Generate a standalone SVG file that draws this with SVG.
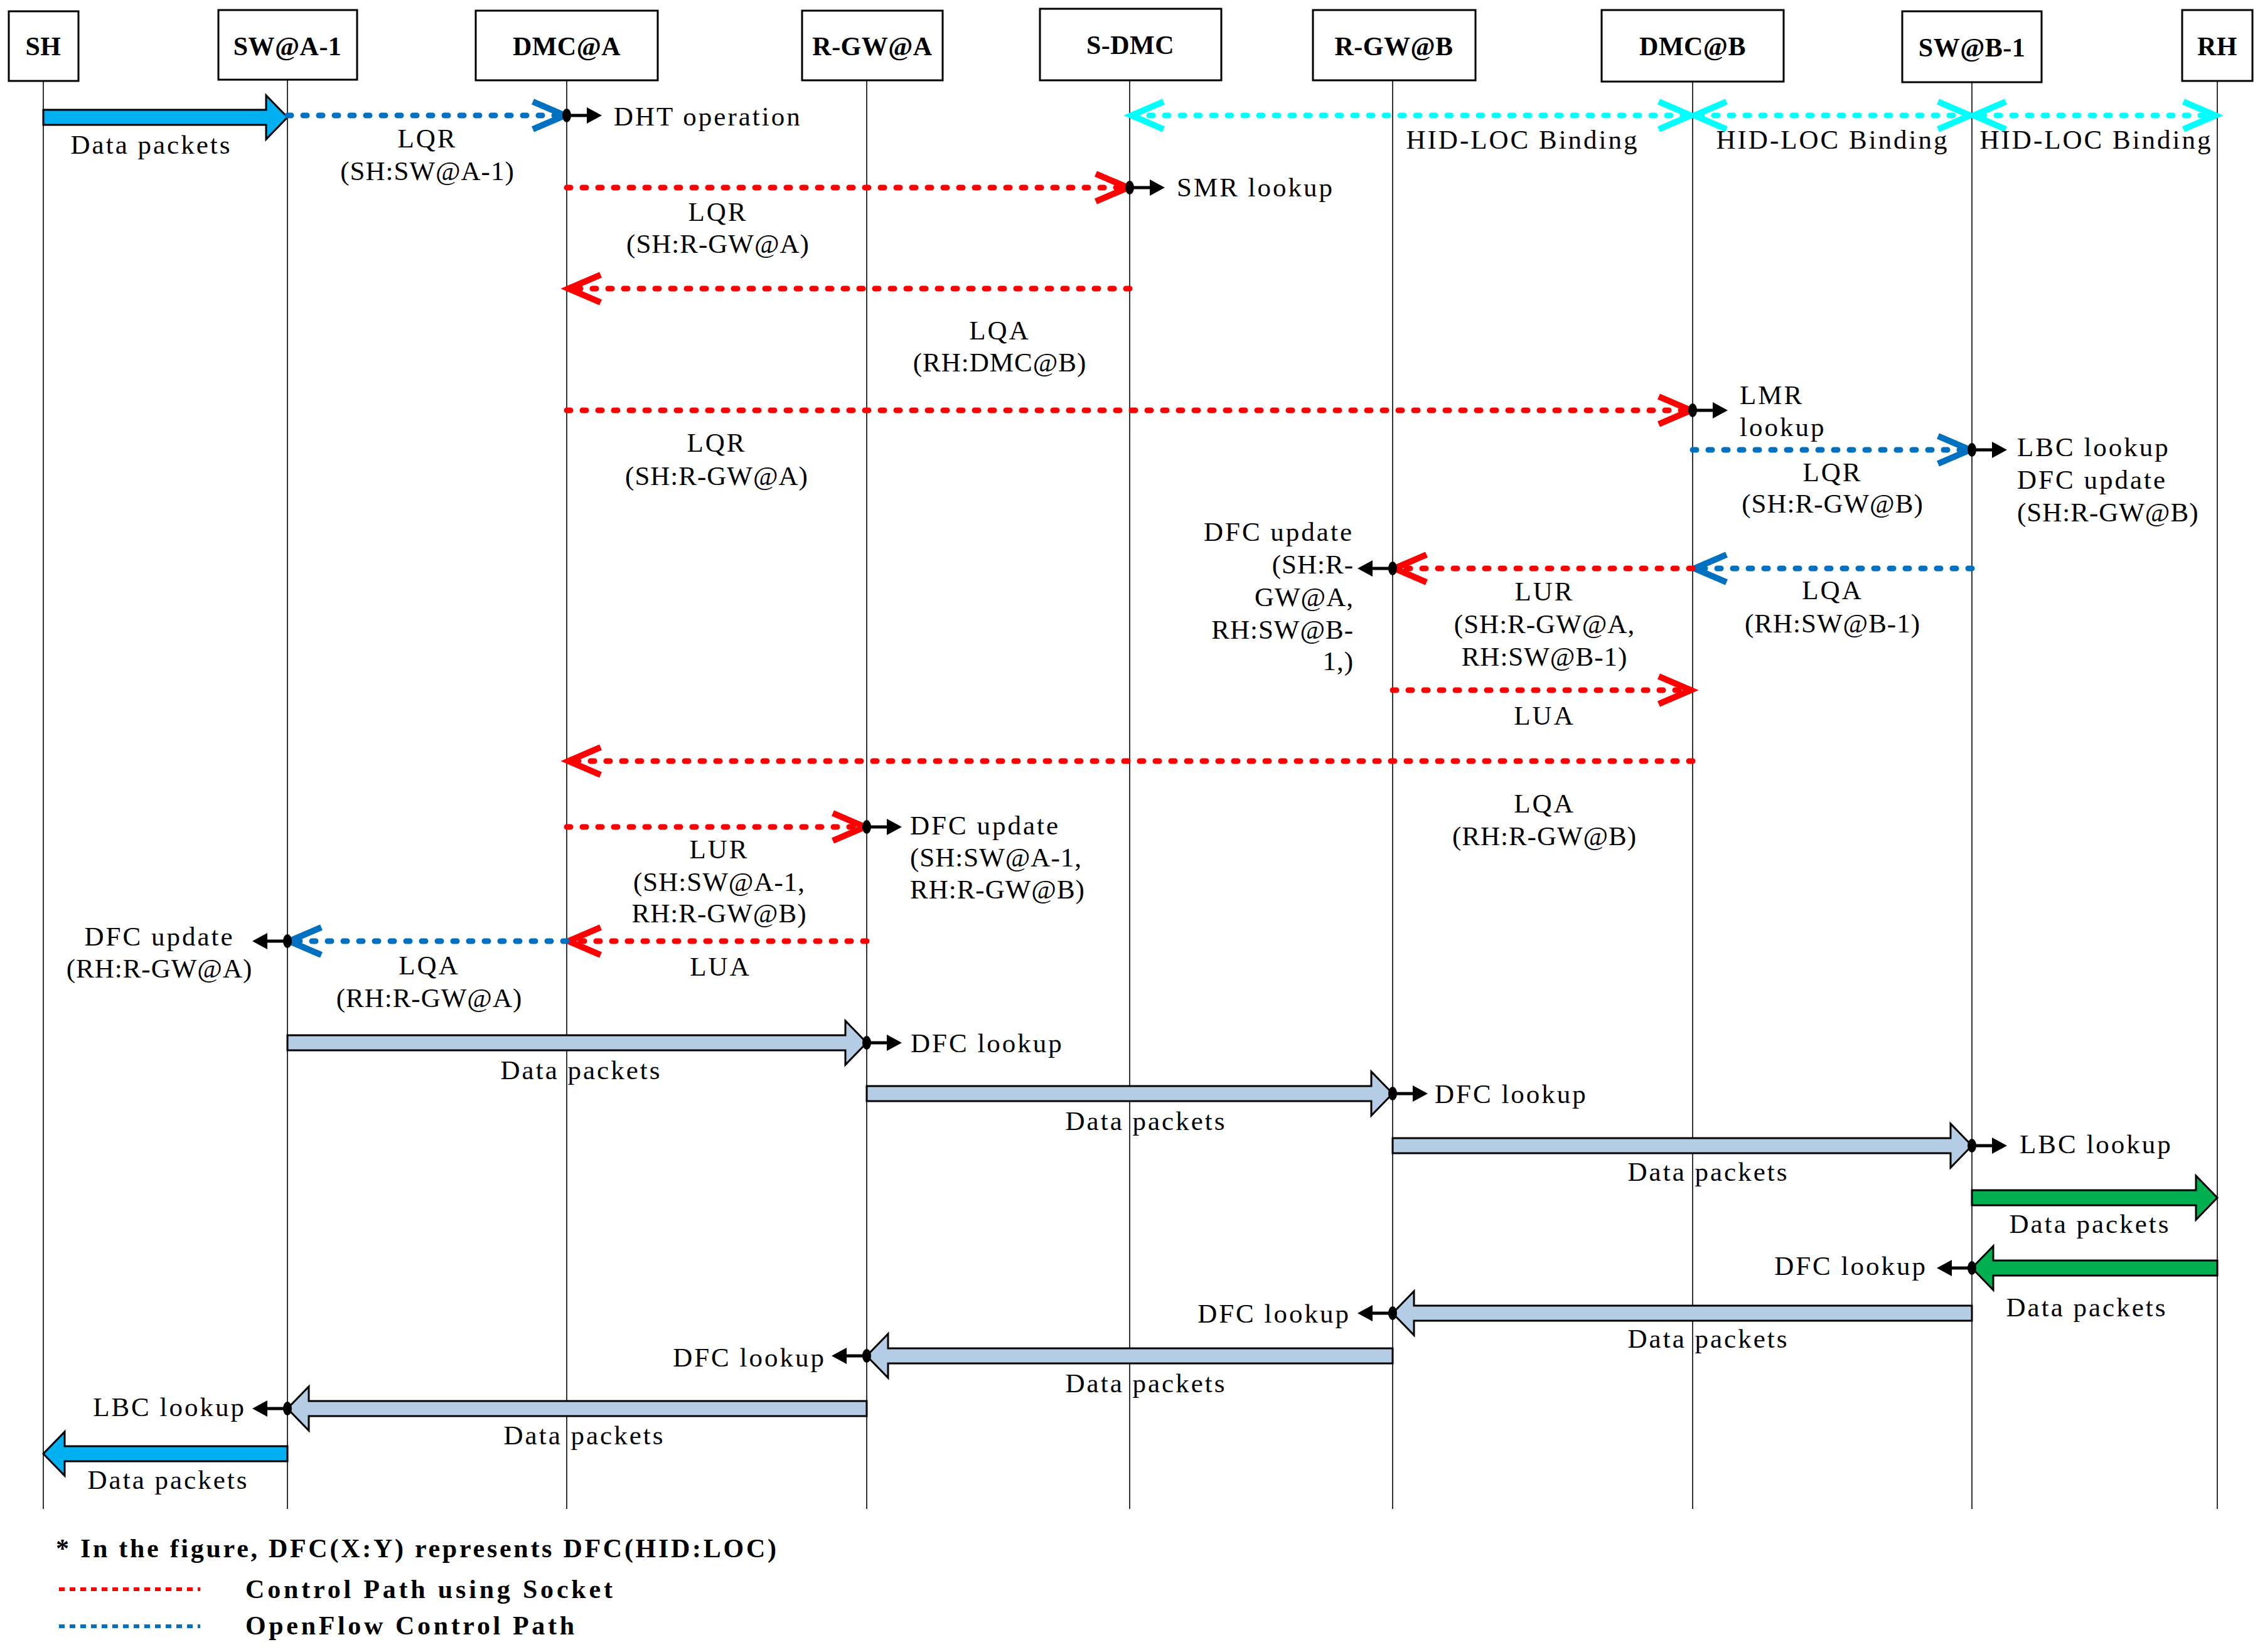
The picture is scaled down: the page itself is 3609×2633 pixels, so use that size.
<svg xmlns="http://www.w3.org/2000/svg" xmlns:xlink="http://www.w3.org/1999/xlink" width="3609" height="2633" viewBox="0 0 3609 2633">
<style>
.box{fill:#fff;stroke:#000;stroke-width:3}
.life{stroke:#000;stroke-width:1.6}
.bl{font-family:"Liberation Serif",serif;font-weight:bold;font-size:42px;text-anchor:middle;letter-spacing:0.5px}
.t{font-family:"Liberation Serif",serif;font-size:43px;letter-spacing:3px;fill:#000}
.a{letter-spacing:1px}
.c{text-anchor:middle}
.e{text-anchor:end}
.red{stroke:#FF0000;stroke-width:9;stroke-dasharray:6 19;stroke-linecap:round;fill:none}
.blu{stroke:#0070C0;stroke-width:9;stroke-dasharray:6 19;stroke-linecap:round;fill:none}
.cya{stroke:#00FFFF;stroke-width:9;stroke-dasharray:6 19;stroke-linecap:round;fill:none}
.big{stroke:#000;stroke-width:3;stroke-linejoin:miter}
.lb{fill:#B4CCE4}
.sb{fill:#00B0F0}
.gr{fill:#00B050}
.leg{font-family:"Liberation Serif",serif;font-weight:bold;font-size:42px}
</style>
<defs>
<g id="mk"><ellipse cx="0" cy="0" rx="7" ry="11" fill="#000"/><line x1="0" y1="0" x2="36" y2="0" stroke="#000" stroke-width="5"/><polygon points="32,-13 56,0 32,13" fill="#000"/></g>
<polyline id="chev" points="-54,-22 -3,0 -54,22" fill="none" stroke="currentColor" stroke-width="10"/>
</defs>
<rect width="3609" height="2633" fill="#fff"/>

<g id="node-SH"><rect class="box" x="14" y="18" width="111" height="111"/><text class="bl" x="69" y="88">SH</text><line class="life" x1="69" y1="129" x2="69" y2="2405"/></g>
<g id="node-SWA1"><rect class="box" x="348" y="16" width="221" height="111"/><text class="bl" x="458" y="88">SW@A-1</text><line class="life" x1="458" y1="127" x2="458" y2="2405"/></g>
<g id="node-DMCA"><rect class="box" x="758" y="17" width="290" height="111"/><text class="bl" x="903" y="88">DMC@A</text><line class="life" x1="903" y1="128" x2="903" y2="2405"/></g>
<g id="node-RGWA"><rect class="box" x="1278" y="17" width="224" height="111"/><text class="bl" x="1390" y="88">R-GW@A</text><line class="life" x1="1381" y1="128" x2="1381" y2="2405"/></g>
<g id="node-SDMC"><rect class="box" x="1657" y="14" width="289" height="114"/><text class="bl" x="1801" y="86">S-DMC</text><line class="life" x1="1800" y1="128" x2="1800" y2="2405"/></g>
<g id="node-RGWB"><rect class="box" x="2092" y="16" width="259" height="112"/><text class="bl" x="2221" y="88">R-GW@B</text><line class="life" x1="2219" y1="128" x2="2219" y2="2405"/></g>
<g id="node-DMCB"><rect class="box" x="2552" y="16" width="290" height="114"/><text class="bl" x="2697" y="88">DMC@B</text><line class="life" x1="2697" y1="130" x2="2697" y2="2405"/></g>
<g id="node-SWB1"><rect class="box" x="3031" y="18" width="222" height="113"/><text class="bl" x="3142" y="90">SW@B-1</text><line class="life" x1="3142" y1="131" x2="3142" y2="2405"/></g>
<g id="node-RH"><rect class="box" x="3477" y="16" width="112" height="113"/><text class="bl" x="3533" y="88">RH</text><line class="life" x1="3533" y1="129" x2="3533" y2="2405"/></g>

<g id="connectors">
<!-- Row 1 -->
<polygon class="big sb" points="69,175 424,175 424,152 458,187 424,222 424,199 69,199"/>
<text class="t c" x="241" y="245">Data packets</text>
<line class="blu" x1="458" y1="184" x2="897" y2="184"/>
<use href="#chev" transform="translate(903,184)" color="#0070C0"/>
<use href="#mk" transform="translate(903,184)"/>
<text class="t" x="978" y="200">DHT operation</text>
<text class="t c" x="681" y="235">LQR</text>
<text class="t a c" x="681" y="287">(SH:SW@A-1)</text>

<!-- Cyan bindings -->
<line class="cya" x1="1806" y1="184" x2="3527" y2="184"/>
<use href="#chev" transform="translate(1800,184) scale(-1,1)" color="#00FFFF"/>
<use href="#chev" transform="translate(2697,184)" color="#00FFFF"/>
<use href="#chev" transform="translate(2697,184) scale(-1,1)" color="#00FFFF"/>
<use href="#chev" transform="translate(3142,184)" color="#00FFFF"/>
<use href="#chev" transform="translate(3142,184) scale(-1,1)" color="#00FFFF"/>
<use href="#chev" transform="translate(3533,184)" color="#00FFFF"/>
<text class="t c" x="2426" y="237">HID-LOC Binding</text>
<text class="t c" x="2920" y="237">HID-LOC Binding</text>
<text class="t c" x="3340" y="237">HID-LOC Binding</text>

<!-- Row 2 -->
<line class="red" x1="903" y1="299" x2="1794" y2="299"/>
<use href="#chev" transform="translate(1800,299)" color="#FF0000"/>
<use href="#mk" transform="translate(1800,299)"/>
<text class="t" x="1875" y="313">SMR lookup</text>
<text class="t c" x="1144" y="352">LQR</text>
<text class="t a c" x="1144" y="403">(SH:R-GW@A)</text>

<!-- Row 3 -->
<line class="red" x1="1800" y1="460" x2="909" y2="460"/>
<use href="#chev" transform="translate(903,460) scale(-1,1)" color="#FF0000"/>
<text class="t c" x="1593" y="541">LQA</text>
<text class="t a c" x="1593" y="592">(RH:DMC@B)</text>

<!-- Row 4 -->
<line class="red" x1="903" y1="654" x2="2691" y2="654"/>
<use href="#chev" transform="translate(2697,654)" color="#FF0000"/>
<use href="#mk" transform="translate(2697,654)"/>
<text class="t" x="2772" y="644">LMR</text>
<text class="t" x="2772" y="695">lookup</text>
<text class="t c" x="1142" y="720">LQR</text>
<text class="t a c" x="1142" y="773">(SH:R-GW@A)</text>

<!-- Row 5 -->
<line class="blu" x1="2697" y1="717" x2="3136" y2="717"/>
<use href="#chev" transform="translate(3142,717)" color="#0070C0"/>
<use href="#mk" transform="translate(3142,717)"/>
<text class="t" x="3214" y="727">LBC lookup</text>
<text class="t" x="3214" y="779">DFC update</text>
<text class="t a" x="3214" y="831">(SH:R-GW@B)</text>
<text class="t c" x="2920" y="767">LQR</text>
<text class="t a c" x="2920" y="817">(SH:R-GW@B)</text>

<!-- Row 6 -->
<line class="blu" x1="3142" y1="906" x2="2703" y2="906"/>
<use href="#chev" transform="translate(2697,906) scale(-1,1)" color="#0070C0"/>
<line class="red" x1="2697" y1="906" x2="2225" y2="906"/>
<use href="#chev" transform="translate(2219,906) scale(-1,1)" color="#FF0000"/>
<use href="#mk" transform="translate(2219,906) scale(-1,1)"/>
<text class="t c" x="2920" y="955">LQA</text>
<text class="t a c" x="2920" y="1008">(RH:SW@B-1)</text>
<text class="t c" x="2461" y="957">LUR</text>
<text class="t a c" x="2461" y="1009">(SH:R-GW@A,</text>
<text class="t a c" x="2461" y="1061">RH:SW@B-1)</text>
<text class="t e" x="2157" y="862">DFC update</text>
<text class="t a e" x="2157" y="914">(SH:R-</text>
<text class="t a e" x="2157" y="966">GW@A,</text>
<text class="t a e" x="2157" y="1018">RH:SW@B-</text>
<text class="t a e" x="2157" y="1068">1,)</text>

<!-- Row 7 -->
<line class="red" x1="2219" y1="1100" x2="2691" y2="1100"/>
<use href="#chev" transform="translate(2697,1100)" color="#FF0000"/>
<text class="t c" x="2461" y="1155">LUA</text>

<!-- Row 8 -->
<line class="red" x1="2697" y1="1213" x2="909" y2="1213"/>
<use href="#chev" transform="translate(903,1213) scale(-1,1)" color="#FF0000"/>
<text class="t c" x="2461" y="1295">LQA</text>
<text class="t a c" x="2461" y="1347">(RH:R-GW@B)</text>

<!-- Row 9 -->
<line class="red" x1="903" y1="1318" x2="1375" y2="1318"/>
<use href="#chev" transform="translate(1381,1318)" color="#FF0000"/>
<use href="#mk" transform="translate(1381,1318)"/>
<text class="t" x="1450" y="1330">DFC update</text>
<text class="t a" x="1450" y="1381">(SH:SW@A-1,</text>
<text class="t a" x="1450" y="1432">RH:R-GW@B)</text>
<text class="t c" x="1146" y="1368">LUR</text>
<text class="t a c" x="1146" y="1420">(SH:SW@A-1,</text>
<text class="t a c" x="1146" y="1470">RH:R-GW@B)</text>

<!-- Row 10 -->
<line class="red" x1="1381" y1="1500" x2="909" y2="1500"/>
<use href="#chev" transform="translate(903,1500) scale(-1,1)" color="#FF0000"/>
<line class="blu" x1="903" y1="1500" x2="464" y2="1500"/>
<use href="#chev" transform="translate(458,1500) scale(-1,1)" color="#0070C0"/>
<use href="#mk" transform="translate(458,1500) scale(-1,1)"/>
<text class="t c" x="254" y="1507">DFC update</text>
<text class="t a c" x="254" y="1558">(RH:R-GW@A)</text>
<text class="t c" x="684" y="1553">LQA</text>
<text class="t a c" x="684" y="1605">(RH:R-GW@A)</text>
<text class="t c" x="1148" y="1555">LUA</text>

<!-- Data rows -->
<polygon class="big lb" points="458,1650 1347,1650 1347,1627 1381,1662 1347,1697 1347,1674 458,1674"/>
<use href="#mk" transform="translate(1381,1662)"/>
<text class="t" x="1451" y="1677">DFC lookup</text>
<text class="t c" x="926" y="1720">Data packets</text>

<polygon class="big lb" points="1381,1731 2185,1731 2185,1708 2219,1743 2185,1778 2185,1755 1381,1755"/>
<use href="#mk" transform="translate(2219,1743)"/>
<text class="t" x="2286" y="1758">DFC lookup</text>
<text class="t c" x="1826" y="1801">Data packets</text>

<polygon class="big lb" points="2219,1814 3108,1814 3108,1791 3142,1826 3108,1861 3108,1838 2219,1838"/>
<use href="#mk" transform="translate(3142,1826)"/>
<text class="t" x="3218" y="1838">LBC lookup</text>
<text class="t c" x="2722" y="1882">Data packets</text>

<polygon class="big gr" points="3142,1897 3499,1897 3499,1874 3533,1909 3499,1944 3499,1921 3142,1921"/>
<text class="t c" x="3330" y="1965">Data packets</text>

<polygon class="big gr" points="3533,2009 3176,2009 3176,1986 3142,2021 3176,2056 3176,2033 3533,2033"/>
<use href="#mk" transform="translate(3142,2021) scale(-1,1)"/>
<text class="t e" x="3071" y="2032">DFC lookup</text>
<text class="t c" x="3325" y="2098">Data packets</text>

<polygon class="big lb" points="3142,2081 2253,2081 2253,2058 2219,2093 2253,2128 2253,2105 3142,2105"/>
<use href="#mk" transform="translate(2219,2093) scale(-1,1)"/>
<text class="t e" x="2152" y="2108">DFC lookup</text>
<text class="t c" x="2722" y="2148">Data packets</text>

<polygon class="big lb" points="2219,2149 1415,2149 1415,2126 1381,2161 1415,2196 1415,2173 2219,2173"/>
<use href="#mk" transform="translate(1381,2161) scale(-1,1)"/>
<text class="t e" x="1316" y="2178">DFC lookup</text>
<text class="t c" x="1826" y="2219">Data packets</text>

<polygon class="big lb" points="1381,2233 492,2233 492,2210 458,2245 492,2280 492,2257 1381,2257"/>
<use href="#mk" transform="translate(458,2245) scale(-1,1)"/>
<text class="t e" x="392" y="2257">LBC lookup</text>
<text class="t c" x="931" y="2302">Data packets</text>

<polygon class="big sb" points="458,2305 103,2305 103,2282 69,2317 103,2352 103,2329 458,2329"/>
<text class="t c" x="268" y="2373">Data packets</text>
</g>

<g id="legend">
<text class="leg" x="89" y="2482" textLength="1148" lengthAdjust="spacing">* In the figure, DFC(X:Y) represents DFC(HID:LOC)</text>
<line x1="94" y1="2533" x2="319" y2="2533" stroke="#FF0000" stroke-width="6" stroke-dasharray="9 8"/>
<text class="leg" x="391" y="2547" textLength="585" lengthAdjust="spacing">Control Path using Socket</text>
<line x1="94" y1="2592" x2="319" y2="2592" stroke="#0070C0" stroke-width="6" stroke-dasharray="9 8"/>
<text class="leg" x="391" y="2605" textLength="524" lengthAdjust="spacing">OpenFlow Control Path</text>
</g>
</svg>
